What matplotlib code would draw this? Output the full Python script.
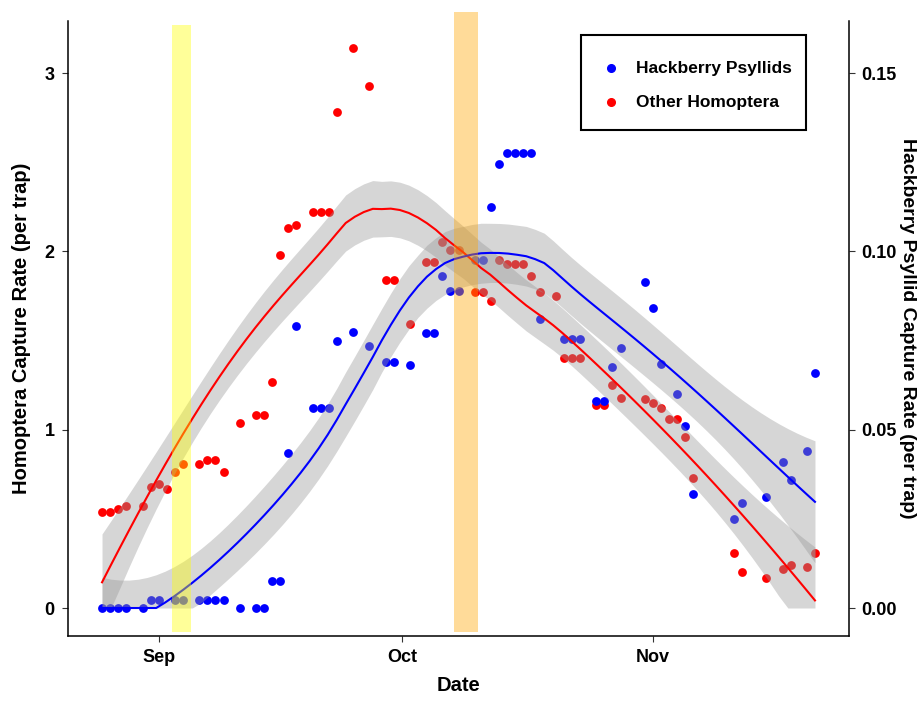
import numpy as np
import pandas as pd
import matplotlib
matplotlib.use("Agg")
import matplotlib.pyplot as plt
import matplotlib.dates as mdates
from matplotlib.lines import Line2D
from matplotlib.patches import Rectangle

plt.rcParams['font.family'] = ['Liberation Sans', 'DejaVu Sans']

# sampling dates (2014) and capture rates
homo_dates = ['08-25', '08-26', '08-27', '08-28', '08-30', '08-31', '09-01', '09-02', '09-03', '09-04',
              '09-06', '09-07', '09-08', '09-09', '09-11', '09-13', '09-14', '09-15', '09-16', '09-17',
              '09-18', '09-20', '09-21', '09-22', '09-23', '09-25', '09-27', '09-29', '09-30', '10-02',
              '10-04', '10-05', '10-06', '10-07', '10-08', '10-10', '10-11', '10-12', '10-13', '10-14',
              '10-15', '10-16', '10-17', '10-18', '10-20', '10-21', '10-22', '10-23', '10-25', '10-26',
              '10-27', '10-28', '10-31', '11-01', '11-02', '11-03', '11-04', '11-05', '11-06', '11-11',
              '11-12', '11-15', '11-17', '11-18', '11-20', '11-21']
homo_rate = [0.54, 0.54, 0.555, 0.57, 0.57, 0.68, 0.695, 0.67, 0.76, 0.81,
             0.81, 0.83, 0.83, 0.76, 1.04, 1.08, 1.08, 1.27, 1.98, 2.13,
             2.15, 2.22, 2.22, 2.22, 2.78, 3.14, 2.93, 1.84, 1.84, 1.59,
             1.94, 1.94, 2.05, 2.01, 2.01, 1.77, 1.77, 1.72, 1.95, 1.93,
             1.93, 1.93, 1.86, 1.77, 1.75, 1.40, 1.40, 1.40, 1.14, 1.14,
             1.25, 1.18, 1.17, 1.15, 1.12, 1.06, 1.06, 0.96, 0.73, 0.31,
             0.20, 0.17, 0.22, 0.24, 0.23, 0.31]

psyl_dates = ['08-25', '08-26', '08-27', '08-28', '08-30', '08-31', '09-01', '09-03', '09-04', '09-06',
              '09-07', '09-08', '09-09', '09-11', '09-13', '09-14', '09-15', '09-16', '09-17', '09-18',
              '09-20', '09-21', '09-22', '09-23', '09-25', '09-27', '09-29', '09-30', '10-02', '10-04',
              '10-05', '10-06', '10-07', '10-08', '10-10', '10-11', '10-12', '10-13', '10-14', '10-15',
              '10-16', '10-17', '10-18', '10-21', '10-22', '10-23', '10-25', '10-26', '10-27', '10-28',
              '10-31', '11-01', '11-02', '11-04', '11-05', '11-06', '11-11', '11-12', '11-15', '11-17',
              '11-18', '11-20', '11-21']
psyl_rate = [0, 0, 0, 0, 0, 0.0022, 0.0022, 0.0022, 0.0022, 0.0022,
             0.0022, 0.0022, 0.0022, 0, 0, 0, 0.0075, 0.0075, 0.0435, 0.079,
             0.056, 0.056, 0.056, 0.075, 0.0775, 0.0735, 0.069, 0.069, 0.068, 0.077,
             0.077, 0.093, 0.089, 0.089, 0.0975, 0.0975, 0.1125, 0.1245, 0.1275, 0.1275,
             0.1275, 0.1275, 0.081, 0.0755, 0.0755, 0.0755, 0.058, 0.058, 0.0675, 0.073,
             0.0915, 0.084, 0.0685, 0.060, 0.051, 0.032, 0.025, 0.0295, 0.031, 0.041,
             0.036, 0.044, 0.066]

# highlighted periods
yellow_span = ('2014-09-02 14:00', '2014-09-05 00:00')
orange_span = ('2014-10-07 10:00', '2014-10-10 10:00')

SCALE = 20  # homoptera axis units per psyllid unit

W, H = 922, 704


def to_num(days):
    return mdates.date2num(pd.to_datetime(['2014-' + d for d in days]))


def loess_matrix(x, x0s, span=0.75):
    n = len(x)
    q = int(np.floor(n * span))
    rows = []
    for x0 in x0s:
        d = np.abs(x - x0)
        h = np.sort(d)[q - 1]
        w = np.clip(1 - (d / h) ** 3, 0, None) ** 3
        X = np.column_stack([np.ones(n), x - x0, (x - x0) ** 2])
        XtW = X.T * w
        rows.append(np.linalg.solve(XtW @ X, XtW)[0])
    return np.array(rows)


def smooth(x, y, n_grid=80):
    grid = np.linspace(x.min(), x.max(), n_grid)
    L_fit = loess_matrix(x, x)
    L_grid = loess_matrix(x, grid)
    resid = y - L_fit @ y
    M = np.eye(len(x)) - L_fit
    MtM = M.T @ M
    d1 = np.trace(MtM)
    d2 = np.trace(MtM @ MtM)
    sigma = np.sqrt(np.sum(resid ** 2) / d1)
    se = sigma * np.sqrt(np.sum(L_grid ** 2, axis=1))
    df = d1 ** 2 / d2
    z = 1.959964
    t = z + (z ** 3 + z) / (4 * df) + (5 * z ** 5 + 16 * z ** 3 + 3 * z) / (96 * df ** 2)
    fit = L_grid @ y
    # rates cannot go below zero
    return grid, np.clip(fit, 0, None), np.clip(fit - t * se, 0, None), np.clip(fit + t * se, 0, None)


xh = to_num(homo_dates)
yh = np.array(homo_rate)
xp = to_num(psyl_dates)
yp = np.array(psyl_rate) * SCALE

fig = plt.figure(figsize=(W / 100, H / 100), dpi=100)
ax = fig.add_axes([68 / W, 68 / H, 781 / W, 615 / H])

ax.scatter(xh, yh, s=40, color='#ff0000', linewidths=0, zorder=2)
ax.scatter(xp, yp, s=40, color='#0000ff', linewidths=0, zorder=2)

gh, fh, lh, uh = smooth(xh, yh)
gp, fp, lp, up = smooth(xp, yp)
ax.fill_between(gh, lh, uh, color='#999999', alpha=0.4, linewidth=0, zorder=3)
ax.fill_between(gp, lp, up, color='#999999', alpha=0.4, linewidth=0, zorder=3)
ax.plot(gh, fh, color='#ff0000', lw=1.5, zorder=4)
ax.plot(gp, fp, color='#0000ff', lw=1.5, zorder=4)

for span, col, top in [(yellow_span, 'yellow', 3.27), (orange_span, 'orange', 3.34)]:
    x0, x1 = mdates.date2num(pd.to_datetime(list(span)))
    ax.add_patch(Rectangle((x0, -0.135), x1 - x0, top + 0.135, facecolor=col, alpha=0.4,
                           linewidth=0, zorder=5, clip_on=False))

base = mdates.date2num(pd.Timestamp('2014-10-01'))
ax.set_xlim(base - 41.2, base + 55.2)
ax.set_ylim(-0.157, 3.292)

ax.xaxis.set_major_locator(mdates.MonthLocator())
ax.xaxis.set_major_formatter(mdates.DateFormatter('%b'))
ax.set_yticks([0, 1, 2, 3])

for s in ['top', 'right']:
    ax.spines[s].set_visible(False)
for s in ['left', 'bottom']:
    ax.spines[s].set_linewidth(1.1)
ax.tick_params(length=4.5, width=0.8, color='#333333', labelsize=13, pad=5)
for lab in ax.get_xticklabels() + ax.get_yticklabels():
    lab.set_fontweight('bold')

sec = ax.secondary_yaxis('right', functions=(lambda v: v / SCALE, lambda v: v * SCALE))
sec.set_yticks([0.00, 0.05, 0.10, 0.15])
sec.set_yticklabels(['0.00', '0.05', '0.10', '0.15'], fontweight='bold')
sec.spines['right'].set_linewidth(1.1)
sec.tick_params(length=4.5, width=0.8, color='#333333', labelsize=13, pad=4)

ax.set_xlabel('Date', fontsize=14.5, fontweight='bold', labelpad=7)
ax.set_ylabel('Homoptera Capture Rate (per trap)', fontsize=14.5, fontweight='bold', labelpad=10)
sec.set_ylabel('Hackberry Psyllid Capture Rate (per trap)', fontsize=14, fontweight='bold',
               rotation=270, labelpad=14)

# legend box drawn in figure pixels
fig.add_artist(Rectangle((581 / W, 1 - 130 / H), 225 / W, 95 / H, transform=fig.transFigure,
                         facecolor='white', edgecolor='black', linewidth=1.5, zorder=10))
for (label, col), yy in zip([('Hackberry Psyllids', '#0000ff'), ('Other Homoptera', '#ff0000')], [68, 102]):
    fig.add_artist(Line2D([611 / W], [1 - yy / H], marker='o', ls='', color=col, ms=5.5,
                          transform=fig.transFigure, zorder=11))
    fig.text(636 / W, 1 - yy / H, label, fontsize=12.5, fontweight='bold', va='center', ha='left',
             zorder=11)

fig.savefig('out.png', dpi=100)
